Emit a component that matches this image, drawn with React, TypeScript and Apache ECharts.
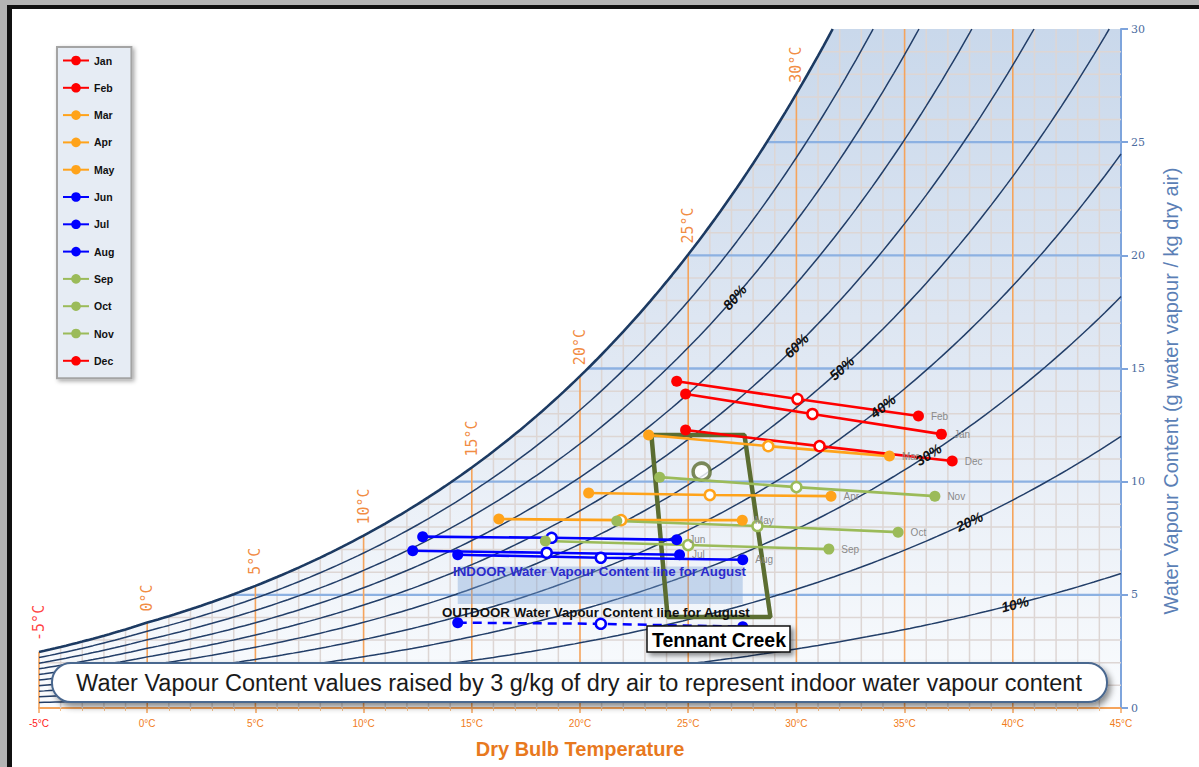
import React, { useEffect, useRef } from "react";
import * as echarts from "echarts";

// ---------- data ----------
const months = ["Jan", "Feb", "Mar", "Apr", "May", "Jun", "Jul", "Aug", "Sep", "Oct", "Nov", "Dec"];
const monthColors = ["#ff0000", "#ff0000", "#ffa31a", "#ffa31a", "#ffa31a", "#0000ff", "#0000ff", "#0000ff", "#9bbb59", "#9bbb59", "#9bbb59", "#ff0000"];
const lowTemp = [24.88, 24.47, 23.17, 20.4, 16.25, 12.73, 12.27, 14.35, 18.4, 21.7, 23.68, 24.88];
const lowVapour = [13.87, 14.44, 12.06, 9.5, 8.35, 7.57, 6.95, 6.77, 7.38, 8.26, 10.2, 12.28];
const meanTemp = [30.74, 30.05, 28.7, 26.0, 21.9, 18.69, 18.46, 20.96, 25.0, 28.2, 30.0, 31.07];
const meanVapour = [12.99, 13.65, 11.57, 9.41, 8.3, 7.52, 6.86, 6.64, 7.2, 8.04, 9.76, 11.57];
const highTemp = [36.7, 35.64, 34.3, 31.6, 27.5, 24.47, 24.6, 27.52, 31.5, 34.7, 36.4, 37.2];
const highVapour = [12.1, 12.9, 11.13, 9.36, 8.3, 7.43, 6.77, 6.55, 7.02, 7.77, 9.36, 10.91];

const outdoorAugTemp = [14.35, 20.96, 27.52];
const outdoorAugVapour = [3.77, 3.72, 3.59];
const augBandTemp = [14.35, 27.52];
const augBandVapour = [4.6, 6.25];

const zoneTemp = [23.3, 27.6, 28.8, 24.05, 23.3];
const zoneVapour = [12.06, 12.06, 4.02, 4.02, 12.06];
const zoneMarker = [25.62, 10.44];

const rhLevels = [10, 20, 30, 40, 50, 60, 70, 80, 90];
const rhLabelLevels = [80, 60, 50, 40, 30, 20, 10];
const rhLabelTemps = [27.15, 30.0, 32.1, 34.0, 36.1, 38.0, 40.1];
const satLabelTemps = [-5, 0, 5, 10, 15, 20, 25, 30];

// ---------- psychrometrics ----------
const P = 101.325;
const psat = (T: number) =>
  T >= 0 ? 0.61094 * Math.exp((17.625 * T) / (T + 243.04)) : 0.61115 * Math.exp((22.452 * T) / (272.55 + T));
const wOf = (T: number, rh: number) => {
  const p = rh * psat(T);
  return (622 * p) / (P - p);
};
const tOf = (w: number, rh: number) => {
  let lo = -40, hi = 80;
  for (let i = 0; i < 60; i++) {
    const m = (lo + hi) / 2;
    if (wOf(m, rh) < w) lo = m; else hi = m;
  }
  return (lo + hi) / 2;
};

const XMIN = -5, XMAX = 45, YMAX = 30;

function curvePts(rh: number) {
  const pts: number[][] = [];
  for (let T = XMIN; T <= XMAX + 1e-9; T += 0.25) {
    const w = wOf(T, rh);
    if (w > YMAX) {
      pts.push([tOf(YMAX, rh), YMAX]);
      break;
    }
    pts.push([T, w]);
  }
  return pts;
}

function areaPts() {
  const pts: number[][] = [];
  const tc = tOf(YMAX, 1);
  for (let T = XMIN; T <= XMAX + 1e-9; T += 0.25) {
    if (T > tc && pts.length && pts[pts.length - 1][1] < YMAX) pts.push([tc, YMAX]);
    pts.push([T, Math.min(wOf(T, 1), YMAX)]);
  }
  return pts;
}

function gridSegs() {
  const minor: number[][][] = [];
  const vmajor: number[][][] = [];
  const hmajor: number[][][] = [];
  for (let T = XMIN; T < XMAX; T++) {
    const seg = [[T, 0], [T, Math.min(wOf(T, 1), YMAX)]];
    (T % 5 === 0 ? vmajor : minor).push(seg);
  }
  for (let w = 1; w < YMAX; w++) {
    const seg = [[Math.max(tOf(w, 1), XMIN), w], [XMAX, w]];
    (w % 5 === 0 ? hmajor : minor).push(seg);
  }
  return { minor, vmajor, hmajor };
}

const GRID = { left: 39, right: 78, top: 29, bottom: 59 };
const W = 1199, H = 767;
const FONT = "Liberation Sans, Arial, sans-serif";

function baseGraphics() {
  return [
    { id: "g1", type: "rect", shape: { x: 0, y: 0, width: W, height: 5 }, style: { fill: "#b4b4b4" }, z: 100 },
    { id: "g2", type: "rect", shape: { x: 0, y: 5, width: W, height: 4 }, style: { fill: "#111" }, z: 100 },
    { id: "g3", type: "rect", shape: { x: 0, y: 0, width: 7, height: H }, style: { fill: "#b4b4b4" }, z: 100 },
    { id: "g4", type: "rect", shape: { x: 7, y: 5, width: 5, height: H }, style: { fill: "#111" }, z: 100 },
    {
      id: "yname",
      type: "text",
      x: 1171,
      y: 391,
      rotation: Math.PI / 2,
      style: {
        text: "Water Vapour Content (g water vapour / kg dry air)",
        fill: "#5b7fb6",
        font: "20px " + FONT,
        align: "center",
        verticalAlign: "middle",
      },
    },
    {
      id: "indoor",
      type: "text",
      x: 453,
      y: 571,
      style: { text: "INDOOR Water Vapour Content line for August", fill: "#2b2bcc", font: "bold 13.3px " + FONT, align: "left", verticalAlign: "middle" },
      z: 50,
    },
    {
      id: "outdoor",
      type: "text",
      x: 442,
      y: 612,
      style: { text: "OUTDOOR Water Vapour Content line for August", fill: "#111", font: "bold 13.3px " + FONT, align: "left", verticalAlign: "middle" },
      z: 50,
    },
    {
      id: "tcbox",
      type: "rect",
      shape: { x: 647, y: 626, width: 143, height: 26 },
      style: { fill: "#fff", stroke: "#111", lineWidth: 1.5, shadowBlur: 5, shadowColor: "rgba(0,0,0,0.45)", shadowOffsetX: 3, shadowOffsetY: 3 },
      z: 60,
    },
    {
      id: "tctext",
      type: "text",
      x: 719,
      y: 639.5,
      style: { text: "Tennant Creek", fill: "#000", font: "bold 19.5px " + FONT, align: "center", verticalAlign: "middle" },
      z: 61,
    },
    {
      id: "notebox",
      type: "rect",
      shape: { x: 52, y: 663, width: 1055, height: 39, r: 19 },
      style: { fill: "#fff", stroke: "#4a678f", lineWidth: 2, shadowBlur: 6, shadowColor: "rgba(0,0,0,0.45)", shadowOffsetX: 3, shadowOffsetY: 4 },
      z: 60,
    },
    {
      id: "notetext",
      type: "text",
      x: 579,
      y: 683,
      style: {
        text: "Water Vapour Content values raised by 3 g/kg of dry air to represent indoor water vapour content",
        fill: "#1a1a1a",
        font: "23.5px " + FONT,
        align: "center",
        verticalAlign: "middle",
      },
      z: 61,
    },
  ];
}

function buildOption() {
  const series: any[] = [];

  series.push({
    type: "line",
    silent: true,
    z: 0,
    data: areaPts(),
    symbol: "none",
    lineStyle: { width: 0 },
    areaStyle: {
      color: new echarts.graphic.LinearGradient(0, 0, 0, 1, [
        { offset: 0, color: "#c9d8eb" },
        { offset: 0.55, color: "#e3eaf4" },
        { offset: 1, color: "#fafcfe" },
      ]),
      opacity: 1,
    },
  });

  const g = gridSegs();
  const addSegs = (segs: number[][][], color: string, width: number) =>
    segs.forEach((s) =>
      series.push({ type: "line", silent: true, z: 1, data: s, symbol: "none", lineStyle: { color, width } })
    );
  addSegs(g.minor, "#ddd6d4", 1.5);
  addSegs(g.hmajor, "#8cb1e2", 2.4);
  addSegs(g.vmajor, "#f5a45c", 1.6);

  rhLevels.forEach((rh) => {
    series.push({
      type: "line",
      silent: true,
      z: 2,
      data: curvePts(rh / 100),
      symbol: "none",
      lineStyle: { color: "#223e68", width: 1.5 },
    });
  });
  series.push({
    type: "line",
    silent: true,
    z: 2,
    data: curvePts(1),
    symbol: "none",
    lineStyle: { color: "#1c3a62", width: 2.6 },
  });

  // comfort zone
  series.push({
    type: "line",
    silent: true,
    z: 3,
    data: zoneTemp.map((t, i) => [t, zoneVapour[i]]),
    symbol: "none",
    lineStyle: { color: "#5b6d31", width: 4.5 },
  });
  series.push({
    type: "scatter",
    silent: true,
    z: 3,
    data: [zoneMarker],
    symbol: "circle",
    symbolSize: 17,
    itemStyle: { color: "#ffffff", borderColor: "#5b6d31", borderWidth: 3.5 },
  });

  // outdoor August
  series.push({
    name: "Aug outdoor",
    type: "line",
    z: 4,
    data: outdoorAugTemp.map((t, i) =>
      i === 1
        ? { value: [t, outdoorAugVapour[i]], symbolSize: 10, itemStyle: { color: "#fff", borderColor: "#0000ff", borderWidth: 2.5 } }
        : [t, outdoorAugVapour[i]]
    ),
    symbol: "circle",
    symbolSize: 11,
    itemStyle: { color: "#0000ff" },
    lineStyle: { color: "#0000ff", width: 2.5, type: [9, 6] },
    markArea: {
      silent: true,
      z: 3,
      itemStyle: { color: "rgba(120,160,212,0.38)" },
      data: [[{ coord: [augBandTemp[0], augBandVapour[0]] }, { coord: [augBandTemp[1], augBandVapour[1]] }]],
    },
  });

  months.forEach((m, i) => {
    const c = monthColors[i];
    series.push({
      name: m,
      type: "line",
      z: 4,
      symbol: "circle",
      symbolSize: 11,
      itemStyle: { color: c },
      lineStyle: { color: c, width: 2.6 },
      data: [
        [lowTemp[i], lowVapour[i]],
        { value: [meanTemp[i], meanVapour[i]], symbolSize: 10, itemStyle: { color: "#fff", borderColor: c, borderWidth: 2.5 } },
        {
          value: [highTemp[i], highVapour[i]],
          label: { show: true, position: "right", distance: 7, formatter: m, color: "#8a8a8a", fontSize: 10, fontFamily: FONT },
        },
      ],
    });
  });

  // temperature labels on the saturation curve
  series.push({
    type: "scatter",
    silent: true,
    z: 5,
    symbolSize: 0,
    data: satLabelTemps.map((T) => ({
      value: [T, wOf(T, 1)],
      label: {
        show: true,
        position: "top",
        distance: 11,
        rotate: 90,
        align: "left",
        verticalAlign: "middle",
        formatter: T + "°C",
        color: T === -5 ? "#ff1010" : "#ee6e0e",
        fontSize: 15,
        fontFamily: "DejaVu Sans Mono, monospace",
      },
    })),
  });

  return {
    animation: false,
    backgroundColor: "#ffffff",
    grid: GRID,
    xAxis: {
      type: "value",
      min: XMIN,
      max: XMAX,
      interval: 5,
      name: "Dry Bulb Temperature",
      nameLocation: "middle",
      nameGap: 31,
      nameTextStyle: { color: "#e8791e", fontSize: 20, fontWeight: "bold", fontFamily: FONT },
      axisLine: { onZero: false, lineStyle: { color: "#f5a45c", width: 2 } },
      axisTick: { show: true, length: 5, lineStyle: { color: "#f5a45c", width: 1.5 } },
      minorTick: { show: true, splitNumber: 5, length: 3, lineStyle: { color: "#f5c08c" } },
      splitLine: { show: false },
      axisLabel: {
        margin: 10,
        formatter: (v: number) => (v === -5 ? "{r|" + v + "°C}" : "{o|" + v + "°C}"),
        rich: {
          r: { color: "#ff2020", fontSize: 10, fontFamily: FONT },
          o: { color: "#f07c1a", fontSize: 10, fontFamily: FONT },
        },
      },
    },
    yAxis: {
      type: "value",
      position: "right",
      min: 0,
      max: YMAX,
      interval: 5,
      axisLine: { show: true, onZero: false, lineStyle: { color: "#7ea4dc", width: 2 } },
      axisTick: { show: true, length: 7, lineStyle: { color: "#7ea4dc", width: 2 } },
      splitLine: { show: false },
      axisLabel: { color: "#4c6c9e", fontSize: 11, fontFamily: "DejaVu Serif, serif", margin: 10 },
    },
    legend: {
      data: months,
      orient: "vertical",
      left: 57,
      top: 47,
      selectedMode: false,
      itemWidth: 26,
      itemHeight: 12,
      itemGap: 16.3,
      padding: [8, 17, 12, 5],
      backgroundColor: "#e6ecf4",
      borderColor: "#a4a4a4",
      borderWidth: 2,
      shadowColor: "rgba(0,0,0,0.35)",
      shadowBlur: 4,
      shadowOffsetX: 2,
      shadowOffsetY: 2,
      textStyle: { color: "#111", fontSize: 10.5, fontWeight: "bold", fontFamily: FONT },
    },
    graphic: { elements: baseGraphics() },
    series,
  };
}

export default function App() {
  const ref = useRef<HTMLDivElement>(null);
  useEffect(() => {
    const chart = echarts.init(ref.current as HTMLDivElement, null, { renderer: "svg" });
    chart.setOption(buildOption() as any);
    // relative-humidity labels, placed along the curves through the chart's own scales
    const labels = rhLabelLevels.map((rh, i) => {
      const T = rhLabelTemps[i];
      const r = rh / 100;
      const p = chart.convertToPixel({ gridIndex: 0 }, [T, wOf(T, r)]) as number[];
      const p1 = chart.convertToPixel({ gridIndex: 0 }, [T - 0.2, wOf(T - 0.2, r)]) as number[];
      const p2 = chart.convertToPixel({ gridIndex: 0 }, [T + 0.2, wOf(T + 0.2, r)]) as number[];
      const ang = Math.atan2(-(p2[1] - p1[1]), p2[0] - p1[0]);
      return {
        id: "rh" + rh,
        type: "text",
        x: p[0],
        y: p[1],
        rotation: ang,
        z: 40,
        style: {
          text: rh + "%",
          fill: "#111",
          font: "italic bold 14px " + FONT,
          align: "center",
          verticalAlign: "middle",
        },
      };
    });
    chart.setOption({ graphic: { elements: baseGraphics().concat(labels as any) } } as any);
    return () => chart.dispose();
  }, []);
  return (
    <div
      ref={ref}
      style={{ position: "absolute", left: 0, top: 0, width: W, height: H, background: "#fff" }}
    />
  );
}
